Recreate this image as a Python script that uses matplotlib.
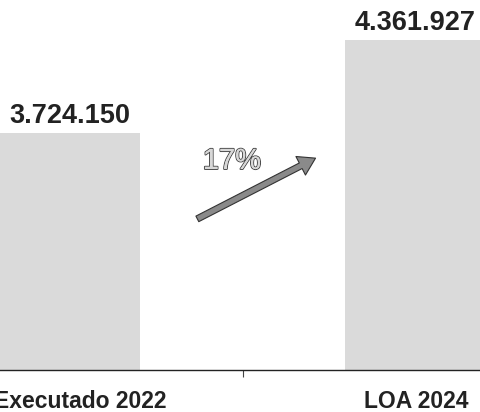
import matplotlib.pyplot as plt
import matplotlib.patheffects as pe

categorias = ['Executado 2022', 'LOA 2024']
valores = [3724150, 4361927]
rotulos = ['3.724.150', '4.361.927']

plt.rcParams['font.family'] = ['Liberation Sans', 'DejaVu Sans']

fig = plt.figure(figsize=(4.8, 4.12), dpi=100)
ax = fig.add_axes([0, 42/412, 1, 370/412])

x = [0, 1]
ax.bar(x, valores, width=0.406, color='#dadada', edgecolor='none', zorder=1)
ax.set_xlim(-0.203, 1.188)
ax.set_ylim(2.0987e6, 4.636e6)

for xi, v, r in zip(x, valores, rotulos):
    ax.annotate(r, (xi, v), xytext=(0, 7), textcoords='offset points',
                ha='center', va='baseline', fontsize=19.5, fontweight='bold', color='#222222')

# eixo
for s in ['top', 'right', 'left']:
    ax.spines[s].set_visible(False)
ax.spines['bottom'].set_color('#222222')
ax.spines['bottom'].set_linewidth(1.0)
ax.set_yticks([])
ax.set_xticks([0.5])
ax.set_xticklabels([''])
ax.tick_params(axis='x', length=5, color='#444444', width=0.8)

desloc = [7, 1]
for xi, c, d in zip(x, categorias, desloc):
    ax.annotate(c, (xi, 0), xycoords=('data', 'axes fraction'), xytext=(d, -27),
                textcoords='offset points', ha='center', va='baseline',
                fontsize=16.5, fontweight='bold', color='#222222')

# seta de crescimento
pct = round((valores[1] / valores[0] - 1) * 100)
ax.annotate('', xy=(0.6625, 0.576), xytext=(0.406, 0.405), xycoords='axes fraction',
            arrowprops=dict(arrowstyle='simple,head_width=1.5,head_length=1.2,tail_width=0.45',
                            facecolor='#8a8a8a', edgecolor='#333333', lw=0.8))
ax.text(0.483, 0.565, f'{pct}%', transform=ax.transAxes, ha='center', va='center',
        fontsize=21, color='#d8d8d8',
        path_effects=[pe.withStroke(linewidth=1.4, foreground='#444444'), pe.Normal()])

fig.savefig('out.png', dpi=100)
